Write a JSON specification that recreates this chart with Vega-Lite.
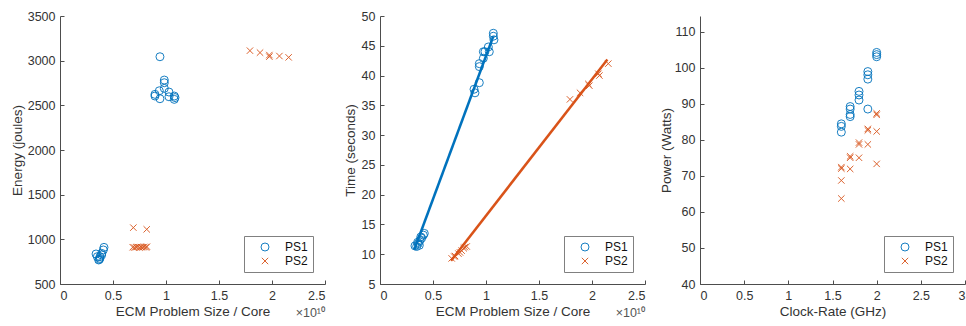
{
  "$schema": "https://vega.github.io/schema/vega-lite/v6.json",
  "padding": {"left": 10, "top": 10, "right": 0, "bottom": 0},
  "spacing": 55,
  "bounds": "flush",
  "config": {
    "view": {"stroke": null},
    "font": "Liberation Sans",
    "axis": {
      "grid": false,
      "domainColor": "#4d4d4d",
      "tickColor": "#4d4d4d",
      "tickSize": -4,
      "labelPadding": 9,
      "labelColor": "#333333",
      "titleColor": "#333333",
      "labelFont": "Liberation Sans",
      "titleFont": "Liberation Sans",
      "labelFontSize": 12.5,
      "titleFontSize": 13.5,
      "titleFontWeight": "normal",
      "titlePadding": 3,
      "labelOverlap": false,
      "format": "d"
    },
    "axisY": {"titleBaseline": "middle"},
    "legend": {
      "orient": "bottom-right",
      "offset": 12,
      "strokeColor": "#808080",
      "fillColor": "white",
      "padding": 5,
      "symbolOffset": 10,
      "labelOffset": 14,
      "labelFontSize": 12,
      "labelFont": "Liberation Sans",
      "labelColor": "#111111",
      "rowPadding": 2,
      "symbolSize": 64,
      "symbolStrokeWidth": 1
    }
  },
  "datasets": {
    "energy": [
      {"x": 0.943, "y": 3044, "series": "PS1"}, {"x": 0.984, "y": 2783, "series": "PS1"}, {"x": 0.984, "y": 2753, "series": "PS1"},
      {"x": 0.984, "y": 2690, "series": "PS1"}, {"x": 0.937, "y": 2663, "series": "PS1"}, {"x": 0.896, "y": 2623, "series": "PS1"},
      {"x": 0.896, "y": 2604, "series": "PS1"}, {"x": 0.943, "y": 2574, "series": "PS1"}, {"x": 1.028, "y": 2649, "series": "PS1"},
      {"x": 1.028, "y": 2596, "series": "PS1"}, {"x": 1.078, "y": 2604, "series": "PS1"}, {"x": 1.078, "y": 2567, "series": "PS1"},
      {"x": 1.085, "y": 2587, "series": "PS1"},
      {"x": 0.340, "y": 836, "series": "PS1"}, {"x": 0.352, "y": 806, "series": "PS1"}, {"x": 0.371, "y": 776, "series": "PS1"},
      {"x": 0.377, "y": 806, "series": "PS1"}, {"x": 0.393, "y": 843, "series": "PS1"}, {"x": 0.409, "y": 881, "series": "PS1"},
      {"x": 0.415, "y": 910, "series": "PS1"}, {"x": 0.365, "y": 769, "series": "PS1"}, {"x": 0.393, "y": 825, "series": "PS1"},
      {"x": 0.377, "y": 787, "series": "PS1"},
      {"x": 1.792, "y": 3112, "series": "PS2"}, {"x": 1.887, "y": 3090, "series": "PS2"}, {"x": 1.975, "y": 3063, "series": "PS2"},
      {"x": 1.975, "y": 3045, "series": "PS2"}, {"x": 2.07, "y": 3052, "series": "PS2"}, {"x": 2.157, "y": 3037, "series": "PS2"},
      {"x": 0.692, "y": 1131, "series": "PS2"}, {"x": 0.818, "y": 1112, "series": "PS2"}, {"x": 0.686, "y": 912, "series": "PS2"},
      {"x": 0.70, "y": 908, "series": "PS2"}, {"x": 0.717, "y": 912, "series": "PS2"}, {"x": 0.73, "y": 915, "series": "PS2"},
      {"x": 0.748, "y": 910, "series": "PS2"}, {"x": 0.765, "y": 913, "series": "PS2"}, {"x": 0.78, "y": 912, "series": "PS2"},
      {"x": 0.795, "y": 915, "series": "PS2"}, {"x": 0.811, "y": 910, "series": "PS2"}, {"x": 0.82, "y": 918, "series": "PS2"}
    ],
    "time": [
      {"x": 1.069, "y": 47.1, "series": "PS1"}, {"x": 1.069, "y": 46.6, "series": "PS1"}, {"x": 1.075, "y": 46.0, "series": "PS1"},
      {"x": 1.022, "y": 44.8, "series": "PS1"}, {"x": 0.975, "y": 44.0, "series": "PS1"}, {"x": 0.99, "y": 44.0, "series": "PS1"},
      {"x": 1.031, "y": 44.0, "series": "PS1"}, {"x": 0.937, "y": 42.0, "series": "PS1"}, {"x": 0.937, "y": 41.5, "series": "PS1"},
      {"x": 0.975, "y": 42.9, "series": "PS1"}, {"x": 0.937, "y": 38.8, "series": "PS1"}, {"x": 0.887, "y": 37.7, "series": "PS1"},
      {"x": 0.896, "y": 37.1, "series": "PS1"},
      {"x": 0.330, "y": 11.4, "series": "PS1"}, {"x": 0.346, "y": 11.3, "series": "PS1"}, {"x": 0.362, "y": 11.8, "series": "PS1"},
      {"x": 0.377, "y": 12.3, "series": "PS1"}, {"x": 0.393, "y": 12.7, "series": "PS1"}, {"x": 0.409, "y": 13.2, "series": "PS1"},
      {"x": 0.418, "y": 13.5, "series": "PS1"}, {"x": 0.371, "y": 11.5, "series": "PS1"}, {"x": 0.355, "y": 12.0, "series": "PS1"},
      {"x": 0.385, "y": 12.9, "series": "PS1"},
      {"x": 1.792, "y": 36.0, "series": "PS2"}, {"x": 1.887, "y": 37.1, "series": "PS2"}, {"x": 1.965, "y": 38.6, "series": "PS2"},
      {"x": 1.975, "y": 38.3, "series": "PS2"}, {"x": 2.06, "y": 40.3, "series": "PS2"}, {"x": 2.07, "y": 40.0, "series": "PS2"},
      {"x": 2.154, "y": 42.0, "series": "PS2"},
      {"x": 0.676, "y": 9.3, "series": "PS2"}, {"x": 0.70, "y": 9.6, "series": "PS2"}, {"x": 0.708, "y": 9.7, "series": "PS2"},
      {"x": 0.74, "y": 10.1, "series": "PS2"}, {"x": 0.755, "y": 10.3, "series": "PS2"}, {"x": 0.77, "y": 10.6, "series": "PS2"},
      {"x": 0.79, "y": 11.0, "series": "PS2"}, {"x": 0.80, "y": 11.2, "series": "PS2"}, {"x": 0.818, "y": 11.3, "series": "PS2"}
    ],
    "fits": [
      {"x": 0.324, "y": 10.8, "series": "PS1"}, {"x": 1.069, "y": 46.6, "series": "PS1"},
      {"x": 0.670, "y": 8.9, "series": "PS2"}, {"x": 2.145, "y": 42.7, "series": "PS2"}
    ],
    "power": [
      {"x": 1.6, "y": 84.4, "series": "PS1"}, {"x": 1.6, "y": 83.7, "series": "PS1"}, {"x": 1.6, "y": 82.1, "series": "PS1"},
      {"x": 1.7, "y": 89.2, "series": "PS1"}, {"x": 1.7, "y": 88.5, "series": "PS1"}, {"x": 1.7, "y": 87.0, "series": "PS1"}, {"x": 1.7, "y": 86.4, "series": "PS1"},
      {"x": 1.8, "y": 93.4, "series": "PS1"}, {"x": 1.8, "y": 92.4, "series": "PS1"}, {"x": 1.8, "y": 91.0, "series": "PS1"},
      {"x": 1.9, "y": 98.9, "series": "PS1"}, {"x": 1.9, "y": 98.0, "series": "PS1"}, {"x": 1.9, "y": 96.8, "series": "PS1"}, {"x": 1.9, "y": 88.5, "series": "PS1"},
      {"x": 2.0, "y": 104.2, "series": "PS1"}, {"x": 2.0, "y": 103.6, "series": "PS1"}, {"x": 2.0, "y": 103.0, "series": "PS1"},
      {"x": 1.6, "y": 72.4, "series": "PS2"}, {"x": 1.6, "y": 72.0, "series": "PS2"}, {"x": 1.6, "y": 68.7, "series": "PS2"}, {"x": 1.6, "y": 63.7, "series": "PS2"},
      {"x": 1.7, "y": 75.4, "series": "PS2"}, {"x": 1.7, "y": 75.0, "series": "PS2"}, {"x": 1.7, "y": 71.9, "series": "PS2"},
      {"x": 1.8, "y": 79.2, "series": "PS2"}, {"x": 1.8, "y": 78.7, "series": "PS2"}, {"x": 1.8, "y": 75.0, "series": "PS2"},
      {"x": 1.9, "y": 83.0, "series": "PS2"}, {"x": 1.9, "y": 82.6, "series": "PS2"}, {"x": 1.9, "y": 78.7, "series": "PS2"},
      {"x": 2.0, "y": 87.3, "series": "PS2"}, {"x": 2.0, "y": 86.9, "series": "PS2"}, {"x": 2.0, "y": 82.3, "series": "PS2"}, {"x": 2.0, "y": 73.3, "series": "PS2"}
    ]
  },
  "hconcat": [
    {
      "width": 265, "height": 268,
      "layer": [
        {
          "data": {"name": "energy"},
          "mark": {"type": "point", "filled": false, "size": 64, "strokeWidth": 1, "opacity": 0.9},
          "encoding": {
            "x": {"field": "x", "type": "quantitative", "scale": {"domain": [0, 2.5], "nice": false, "zero": false}, "axis": {"values": [0, 0.5, 1, 1.5, 2, 2.5], "format": "~g", "title": "ECM Problem Size / Core"}},
            "y": {"field": "y", "type": "quantitative", "scale": {"domain": [500, 3500], "nice": false, "zero": false}, "axis": {"values": [500, 1000, 1500, 2000, 2500, 3000, 3500], "title": "Energy (joules)", "titleX": -43}},
            "color": {"field": "series", "type": "nominal", "scale": {"domain": ["PS1", "PS2"], "range": ["#0072BD", "#D95319"]}, "legend": {"title": null}},
            "shape": {"field": "series", "type": "nominal", "scale": {"domain": ["PS1", "PS2"], "range": ["circle", "M-0.8,-0.8L0.8,0.8M-0.8,0.8L0.8,-0.8"]}, "legend": {"title": null}}
          }
        },
        {
          "data": {"values": [{"t": "×10¹⁰"}]},
          "mark": {"type": "text", "align": "right", "baseline": "middle", "dy": 29, "fontSize": 12.5, "color": "#555555"},
          "encoding": {
            "x": {"datum": 2.5, "type": "quantitative", "axis": {"values": [0, 0.5, 1, 1.5, 2, 2.5], "format": "~g", "title": "ECM Problem Size / Core"}},
            "y": {"datum": 500, "type": "quantitative", "axis": {"values": [500, 1000, 1500, 2000, 2500, 3000, 3500], "title": "Energy (joules)", "titleX": -43}},
            "text": {"field": "t"}
          }
        }
      ]
    },
    {
      "width": 265, "height": 268,
      "layer": [
        {
          "data": {"name": "fits"},
          "mark": {"type": "line", "strokeWidth": 2.5},
          "encoding": {
            "x": {"field": "x", "type": "quantitative", "scale": {"domain": [0, 2.5], "nice": false, "zero": false}, "axis": {"values": [0, 0.5, 1, 1.5, 2, 2.5], "format": "~g", "title": "ECM Problem Size / Core"}},
            "y": {"field": "y", "type": "quantitative", "scale": {"domain": [5, 50], "nice": false, "zero": false}, "axis": {"values": [5, 10, 15, 20, 25, 30, 35, 40, 45, 50], "title": "Time (seconds)", "titleX": -30}},
            "detail": {"field": "series"},
            "stroke": {"field": "series", "type": "nominal", "scale": {"domain": ["PS1", "PS2"], "range": ["#0072BD", "#D95319"]}, "legend": null}
          }
        },
        {
          "data": {"name": "time"},
          "mark": {"type": "point", "filled": false, "size": 64, "strokeWidth": 1, "opacity": 0.9},
          "encoding": {
            "x": {"field": "x", "type": "quantitative", "scale": {"domain": [0, 2.5], "nice": false, "zero": false}, "axis": {"values": [0, 0.5, 1, 1.5, 2, 2.5], "format": "~g", "title": "ECM Problem Size / Core"}},
            "y": {"field": "y", "type": "quantitative", "scale": {"domain": [5, 50], "nice": false, "zero": false}, "axis": {"values": [5, 10, 15, 20, 25, 30, 35, 40, 45, 50], "title": "Time (seconds)", "titleX": -30}},
            "color": {"field": "series", "type": "nominal", "scale": {"domain": ["PS1", "PS2"], "range": ["#0072BD", "#D95319"]}, "legend": {"title": null}},
            "shape": {"field": "series", "type": "nominal", "scale": {"domain": ["PS1", "PS2"], "range": ["circle", "M-0.8,-0.8L0.8,0.8M-0.8,0.8L0.8,-0.8"]}, "legend": {"title": null}}
          }
        },
        {
          "data": {"values": [{"t": "×10¹⁰"}]},
          "mark": {"type": "text", "align": "right", "baseline": "middle", "dy": 29, "fontSize": 12.5, "color": "#555555"},
          "encoding": {
            "x": {"datum": 2.5, "type": "quantitative", "axis": {"values": [0, 0.5, 1, 1.5, 2, 2.5], "format": "~g", "title": "ECM Problem Size / Core"}},
            "y": {"datum": 5, "type": "quantitative", "axis": {"values": [5, 10, 15, 20, 25, 30, 35, 40, 45, 50], "title": "Time (seconds)", "titleX": -30}},
            "text": {"field": "t"}
          }
        }
      ],
      "resolve": {"scale": {"stroke": "independent"}}
    },
    {
      "width": 265, "height": 268,
      "data": {"name": "power"},
      "mark": {"type": "point", "filled": false, "size": 64, "strokeWidth": 1, "opacity": 0.9},
      "encoding": {
        "x": {"field": "x", "type": "quantitative", "scale": {"domain": [0, 3], "nice": false, "zero": false}, "axis": {"values": [0, 0.5, 1, 1.5, 2, 2.5, 3], "format": "~g", "title": "Clock-Rate (GHz)"}},
        "y": {"field": "y", "type": "quantitative", "scale": {"domain": [40, 114.3], "nice": false, "zero": false}, "axis": {"values": [40, 50, 60, 70, 80, 90, 100, 110], "title": "Power (Watts)", "titleX": -34}},
        "color": {"field": "series", "type": "nominal", "scale": {"domain": ["PS1", "PS2"], "range": ["#0072BD", "#D95319"]}, "legend": {"title": null}},
        "shape": {"field": "series", "type": "nominal", "scale": {"domain": ["PS1", "PS2"], "range": ["circle", "M-0.8,-0.8L0.8,0.8M-0.8,0.8L0.8,-0.8"]}, "legend": {"title": null}}
      }
    }
  ],
  "resolve": {"scale": {"x": "independent", "y": "independent"}, "legend": {"color": "independent", "shape": "independent"}}
}
